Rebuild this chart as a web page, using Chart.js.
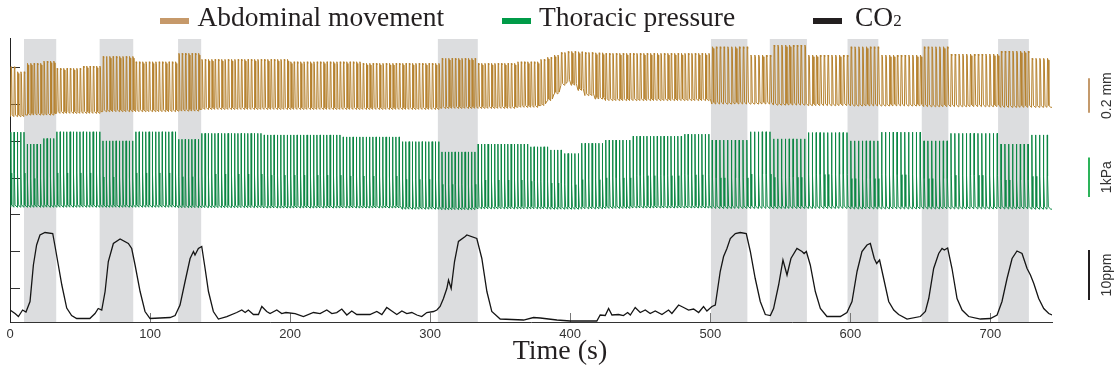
<!DOCTYPE html>
<html>
<head>
<meta charset="utf-8">
<title>Breathing traces</title>
<script src="https://cdn.jsdelivr.net/npm/chart.js@4.4.1/dist/chart.umd.min.js"></script>
<style>
  body { margin: 0; background: #fff; }
  #wrap { position: relative; width: 1120px; height: 377px; }
  #legend { position: absolute; left: 0; top: 0; width: 1120px; height: 38px;
            font-family: "Liberation Serif", serif; font-size: 27.5px; color: #231f20; }
  #legend .swatch { position: absolute; top: 18px; width: 29px; height: 6px; }
  #legend .text { position: absolute; top: 3px; line-height: 28px; white-space: nowrap; }
  #legend .sub { font-size: 17px; }
</style>
</head>
<body>
<div id="wrap">
  <canvas id="chart" width="1120" height="377"></canvas>
  <div id="legend"></div>
</div>
<script>
// Shaded periods (s)
const bandStart = [10, 64, 120, 305.5, 500.5, 542.5, 598, 651, 705.5];
const bandEnd = [33, 88, 136.5, 334, 526.5, 569, 620, 670, 727.5];

// Breathing period (s), by segment start time
const periodT = [0, 380, 500];
const periodS = [2.35, 2.45, 2.75];

// Abdominal movement envelope (mm), by segment start time
const abdSegT = [0, 3, 10, 22, 33, 50, 64, 88, 120, 136, 200, 250, 306, 334, 360, 378, 383, 388, 392, 396, 400, 405, 410, 416, 425, 500, 526, 543, 569, 598, 620, 651, 670, 705, 728];
const abdPeak = [0.297, 0.268, 0.317, 0.330, 0.288, 0.301, 0.357, 0.326, 0.375, 0.340, 0.326, 0.317, 0.346, 0.317, 0.326, 0.340, 0.352, 0.365, 0.380, 0.386, 0.386, 0.384, 0.380, 0.378, 0.375, 0.413, 0.365, 0.423, 0.365, 0.413, 0.365, 0.413, 0.371, 0.388, 0.346];
const abdTrough = [0.008, 0.008, 0.017, 0.017, 0.027, 0.027, 0.037, 0.037, 0.040, 0.050, 0.050, 0.050, 0.056, 0.056, 0.062, 0.072, 0.100, 0.140, 0.190, 0.212, 0.190, 0.160, 0.130, 0.110, 0.101, 0.081, 0.081, 0.075, 0.072, 0.070, 0.070, 0.066, 0.066, 0.062, 0.062];

// Thoracic pressure envelope (kPa), by segment start time
const thorSegT = [0, 10, 22, 33, 64, 88, 120, 136, 180, 237, 280, 306, 334, 370, 385, 395, 406, 425, 444, 480, 500, 526, 543, 569, 598, 620, 651, 670, 705, 728];
const thorPeak = [1.92, 1.62, 1.76, 1.93, 1.70, 1.93, 1.74, 1.89, 1.85, 1.80, 1.68, 1.42, 1.62, 1.55, 1.47, 1.38, 1.64, 1.72, 1.82, 1.87, 1.72, 1.93, 1.75, 1.91, 1.70, 1.92, 1.70, 1.89, 1.62, 1.85];
const thorBase = [0.02, 0.02, 0.02, 0.02, 0.02, 0.02, 0.01, 0.01, 0, 0, -0.03, -0.04, -0.02, -0.02, -0.03, -0.03, -0.02, -0.01, 0, 0, -0.01, -0.01, -0.01, -0.01, -0.02, -0.02, -0.02, -0.02, -0.02, -0.03];

// CO2 (ppm above baseline)
const co2Time = [0, 3.6, 6, 9, 11.4, 14.3, 16.7, 19, 21.4, 25, 30.5, 32, 34.5, 37, 40.5, 44, 47.6, 57, 60.7, 63, 65.5, 67.9, 70.2, 73.8, 78.6, 84.5, 86.9, 89.3, 92.9, 96.4, 100, 114.3, 117.9, 121.4, 125, 128.6, 131, 132.1, 134.5, 136.9, 139.3, 141.7, 145.2, 148.8, 154.8, 161.9, 165.5, 167.9, 170.2, 173.8, 177.4, 179.8, 183.3, 185.7, 190.5, 194, 197, 203.6, 209.5, 216.7, 221.4, 226.2, 229.8, 233.3, 236.9, 240.5, 244, 247.6, 257, 261.9, 265.5, 269, 272.6, 276.2, 279.8, 283.3, 286.9, 290.5, 294, 297.6, 302.4, 304.8, 307.1, 309.5, 311.9, 313.1, 315, 317.4, 320.2, 325, 326.2, 333.3, 336.9, 340.5, 344, 350, 366.7, 373.8, 378.6, 390.5, 400, 419, 421.4, 425, 427.4, 429.8, 434.5, 438, 441, 442.9, 446.4, 450, 453.6, 457.1, 460.7, 465.5, 470.2, 472.6, 477.4, 481, 484.5, 488.1, 491.7, 495.2, 497.6, 501.2, 503.6, 507.1, 509.5, 511.9, 514.3, 517.9, 521.4, 525.7, 528.6, 532.1, 535.7, 539.3, 542.9, 545.2, 548.8, 551.9, 554.8, 557.6, 561.9, 565.5, 567, 568.6, 571.4, 575, 578.6, 583.3, 592.9, 597.6, 601.2, 604.8, 608.3, 611.9, 614.3, 617.1, 618.8, 620.9, 623.8, 627.4, 631, 634.5, 640.5, 650, 653.6, 656, 659.5, 663.1, 665.5, 667.1, 669.5, 672.6, 676.2, 679.8, 684.5, 692.9, 700, 704.8, 708.3, 711.9, 715.5, 719, 722.6, 726.2, 728.6, 731, 734.5, 738.1, 741.7, 744];
const co2Ppm = [2.0, 1.3, 0.7, 2.0, 1.6, 3.7, 11, 15, 17, 17.5, 17.3, 15, 11, 7, 2.4, 0.9, 0.3, 0.3, 1.3, 2.3, 2.0, 5.7, 11.7, 15.3, 16.2, 15.3, 14.3, 11, 5.7, 1.7, 0.3, 0.5, 0.9, 3, 7.7, 12.3, 13.7, 13, 14.3, 14.7, 10.3, 5.7, 1.7, 0.2, 0.7, 1.5, 2, 1.5, 2, 1.1, 1.1, 2.7, 1.7, 1.3, 2.0, 1.3, 1.5, 1.3, 0.7, 1.5, 1.3, 2.0, 1.3, 1.5, 2.2, 1.0, 1.8, 1.1, 1.1, 1.7, 1.1, 2.5, 1.8, 1.1, 1.8, 1.3, 1.5, 1.0, 0.7, 1.5, 1.7, 2.0, 2.7, 4.3, 6.3, 8, 6.3, 11.7, 15.7, 16.7, 17.0, 16.3, 12.3, 5.7, 1.7, 0.2, 0, 0.5, 0.4, 0, -0.2, -0.2, 1.0, 0.9, 2.3, 1.0, 1.1, 0.9, 1.5, 1.0, 2.5, 1.5, 2.0, 1.3, 1.8, 1.1, 2.0, 1.3, 3.0, 2.5, 2.0, 2.2, 1.5, 2.7, 1.8, 2.7, 3.0, 9.7, 12.7, 14.3, 16.3, 17.3, 17.5, 17.3, 13.7, 8.3, 3.7, 1.1, 0.9, 2.3, 7, 12, 9, 12.3, 14.3, 13.7, 13.3, 13.7, 11, 5.7, 2.3, 0.7, 0.7, 1.5, 3.7, 9.7, 13.7, 15, 15.3, 12.3, 11.3, 12, 8.3, 3.7, 2.0, 1.1, 0.2, 0.7, 1.7, 4.3, 10.3, 13.3, 14.3, 14, 14.4, 10.3, 4.3, 2.0, 0.7, 0.2, 0.3, 1.0, 3.7, 8.3, 12.3, 13.8, 13.3, 10.3, 9, 7.3, 4.3, 2.3, 1.3, 1.0];

// Where each trace sits on the shared axis (axis units per tick step)
const traceLayout = {
    abd: { offset: 5.636, gain: 4.704 },   // per mm
    thor: { offset: 3.182, gain: 1.077 },  // per kPa
    co2: { offset: 0.127, gain: 0.1364 }   // per ppm
};
const toAxis = (name, v) => traceLayout[name].offset + traceLayout[name].gain * v;

// Step lookup in a segment table
function segValue(segT, vals, t) {
    let v = vals[0];
    for (let i = 0; i < segT.length; i++) {
        if (t >= segT[i]) v = vals[i];
    }
    return v;
}

// Build the breath-by-breath traces from the envelopes
const abdPoints = [];
const thorPoints = [];
let t = 0.4;
while (t < 741) {
    const p = segValue(periodT, periodS, t);
    const base = segValue(thorSegT, thorBase, t);
    const peak = segValue(thorSegT, thorPeak, t);
    const lo = segValue(abdSegT, abdTrough, t);
    const hi = segValue(abdSegT, abdPeak, t);
    abdPoints.push({ x: t, y: toAxis('abd', lo) });
    abdPoints.push({ x: t + 0.15 * p, y: toAxis('abd', hi) });
    abdPoints.push({ x: t + 0.3 * p, y: toAxis('abd', hi - 0.01) });
    abdPoints.push({ x: t + 0.5 * p, y: toAxis('abd', lo + 0.01) });
    thorPoints.push({ x: t, y: toAxis('thor', base) });
    thorPoints.push({ x: t + 0.08 * p, y: toAxis('thor', peak) });
    thorPoints.push({ x: t + 0.16 * p, y: toAxis('thor', base + 0.45 * peak) });
    thorPoints.push({ x: t + 0.35 * p, y: toAxis('thor', base + 0.06) });
    t += p;
}
abdPoints.push({ x: t, y: toAxis('abd', abdTrough[abdTrough.length - 1]) });
abdPoints.push({ x: 744, y: toAxis('abd', abdTrough[abdTrough.length - 1]) });
thorPoints.push({ x: t, y: toAxis('thor', thorBase[thorBase.length - 1]) });
thorPoints.push({ x: 744, y: toAxis('thor', thorBase[thorBase.length - 1]) });

const co2Points = co2Time.map((tt, i) => ({ x: tt, y: toAxis('co2', co2Ppm[i]) }));

// Scale bars on the right: [trace, from, to, label, colour]
const scaleBars = [
    ['abd', 0.03, 0.23, '0.2 mm', '#C49A6C'],
    ['thor', 0.28, 1.28, '1kPa', '#2DB35A'],
    ['co2', 4, 14, '10ppm', '#231f20']
];

// Grey shaded periods behind the traces
const bandsPlugin = {
    id: 'bands',
    beforeDraw(chart) {
        const { ctx, chartArea, scales } = chart;
        ctx.save();
        ctx.fillStyle = '#DCDDDF';
        bandStart.forEach((s, i) => {
            const x0 = scales.x.getPixelForValue(s);
            const x1 = scales.x.getPixelForValue(bandEnd[i]);
            ctx.fillRect(x0, chartArea.top + 1, x1 - x0, chartArea.bottom - chartArea.top - 1);
        });
        ctx.restore();
    }
};

// Vertical scale bars with rotated labels
const scaleBarPlugin = {
    id: 'scaleBars',
    afterDraw(chart) {
        const { ctx, chartArea, scales } = chart;
        const bx = chartArea.right + 37;
        const lx = chartArea.right + 55;
        ctx.save();
        scaleBars.forEach(([name, from, to, label, color]) => {
            const y0 = scales.y.getPixelForValue(toAxis(name, from));
            const y1 = scales.y.getPixelForValue(toAxis(name, to));
            ctx.strokeStyle = color;
            ctx.lineWidth = 2;
            ctx.beginPath();
            ctx.moveTo(bx, y0);
            ctx.lineTo(bx, y1);
            ctx.stroke();

            ctx.save();
            ctx.translate(lx, (y0 + y1) / 2);
            ctx.rotate(-Math.PI / 2);
            ctx.fillStyle = '#333';
            ctx.font = '14px "Liberation Sans"';
            ctx.textAlign = 'center';
            ctx.textBaseline = 'middle';
            ctx.fillText(label, 0, 0);
            ctx.restore();
        });
        ctx.restore();
    }
};

const ctx = document.getElementById('chart').getContext('2d');
const chart = new Chart(ctx, {
    type: 'line',
    data: {
        datasets: [
            { label: 'Abdominal movement', data: abdPoints, borderColor: '#B5812D', borderWidth: 1, pointRadius: 0 },
            { label: 'Thoracic pressure', data: thorPoints, borderColor: '#0C8744', borderWidth: 1, pointRadius: 0 },
            { label: 'CO2', data: co2Points, borderColor: '#151515', borderWidth: 1.3, pointRadius: 0 }
        ]
    },
    options: {
        responsive: false,
        animation: false,
        events: [],
        layout: { padding: { top: 38, left: 0, right: 0, bottom: 0 } },
        scales: {
            x: {
                type: 'linear',
                min: 0,
                max: 744,
                afterFit: (s) => {
                    s.height = 16;
                    s.paddingLeft = 0;
                    s.paddingRight = 0;
                },
                border: { color: '#333', width: 1 },
                grid: { drawOnChartArea: false, drawTicks: true, tickLength: -9, tickColor: '#777' },
                ticks: {
                    stepSize: 100,
                    includeBounds: false,
                    padding: 14,
                    maxRotation: 0,
                    color: '#333',
                    font: { family: 'Liberation Sans', size: 13 }
                }
            },
            y: {
                type: 'linear',
                position: 'left',
                min: 0.073,
                max: 7.818,
                afterFit: (s) => {
                    s.width = 10;
                    s.paddingTop = 0;
                    s.paddingBottom = 0;
                },
                border: { color: '#222', width: 1 },
                grid: { drawOnChartArea: false, drawTicks: true, tickLength: -10, tickColor: '#333' },
                ticks: { display: false, stepSize: 1, includeBounds: false }
            },
            yBars: {
                type: 'linear',
                position: 'right',
                afterFit: (s) => {
                    s.width = 68;
                    s.paddingTop = 0;
                    s.paddingBottom = 0;
                },
                border: { display: false },
                grid: { display: false },
                ticks: { display: false }
            }
        },
        plugins: {
            legend: { display: false },
            tooltip: { enabled: false },
            title: {
                display: true,
                position: 'bottom',
                text: 'Time (s)',
                color: '#231f20',
                font: { family: 'Liberation Serif', size: 28, weight: 'normal', lineHeight: 1 },
                padding: { top: 0, bottom: 11 }
            }
        }
    },
    plugins: [bandsPlugin, scaleBarPlugin]
});

// HTML legend built from the datasets
const legendPos = [[160, 197.5], [502, 539], [813, 855]];
const legendSwatch = ['#C6996A', '#009B48', '#231f20'];
const legendEl = document.getElementById('legend');
chart.data.datasets.forEach((ds, i) => {
    const sw = document.createElement('div');
    sw.className = 'swatch';
    sw.style.left = legendPos[i][0] + 'px';
    sw.style.background = legendSwatch[i];
    legendEl.appendChild(sw);

    const tx = document.createElement('span');
    tx.className = 'text';
    tx.style.left = legendPos[i][1] + 'px';
    if (ds.label === 'CO2') {
        tx.innerHTML = 'CO<span class="sub">2</span>';
    } else {
        tx.textContent = ds.label;
    }
    legendEl.appendChild(tx);
});
</script>
</body>
</html>
